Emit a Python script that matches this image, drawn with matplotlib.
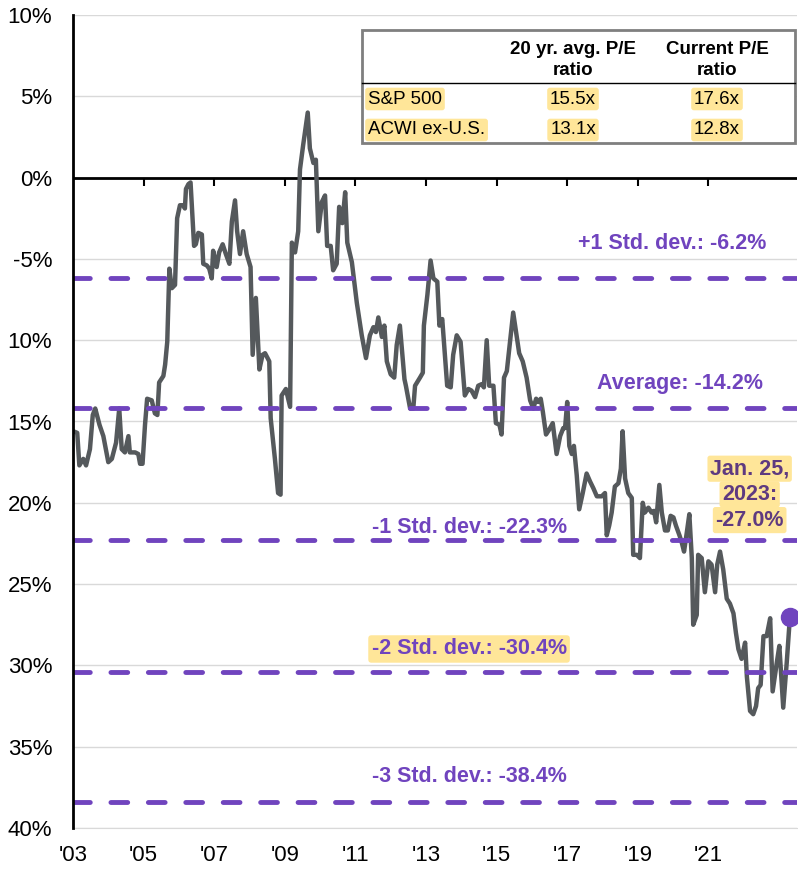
import numpy as np
import matplotlib.pyplot as plt
from matplotlib.patches import Rectangle
from matplotlib.lines import Line2D

plt.rcParams['font.family'] = ['Liberation Sans', 'DejaVu Sans']

# ACWI ex-U.S. P/E relative to S&P 500 (discount, %)
years = [2003.01, 2003.12, 2003.18, 2003.29, 2003.37, 2003.48, 2003.56, 2003.63, 2003.75, 2003.86,
         2004.00, 2004.10, 2004.22, 2004.31, 2004.38, 2004.47, 2004.57, 2004.61, 2004.76, 2004.85,
         2004.90, 2004.97, 2005.04, 2005.10, 2005.23, 2005.32, 2005.39, 2005.44, 2005.56, 2005.61,
         2005.67, 2005.73, 2005.80, 2005.89, 2005.95, 2006.03, 2006.12, 2006.17, 2006.20, 2006.27,
         2006.33, 2006.43, 2006.48, 2006.55, 2006.65, 2006.69, 2006.79, 2006.86, 2006.93, 2006.97,
         2007.07, 2007.14, 2007.24, 2007.33, 2007.43, 2007.50, 2007.59, 2007.65, 2007.73, 2007.82,
         2007.92, 2008.03, 2008.09, 2008.18, 2008.28, 2008.37, 2008.44, 2008.56, 2008.60, 2008.72,
         2008.81, 2008.88, 2008.91, 2009.03, 2009.15, 2009.20, 2009.29, 2009.38, 2009.43, 2009.52,
         2009.65, 2009.71, 2009.81, 2009.88, 2009.95, 2010.05, 2010.14, 2010.20, 2010.30, 2010.37,
         2010.47, 2010.54, 2010.63, 2010.71, 2010.77, 2010.90, 2011.04, 2011.18, 2011.30, 2011.41,
         2011.51, 2011.58, 2011.65, 2011.75, 2011.82, 2011.89, 2012.00, 2012.10, 2012.17, 2012.26,
         2012.39, 2012.43, 2012.55, 2012.64, 2012.69, 2012.83, 2012.91, 2012.94, 2013.04, 2013.13,
         2013.21, 2013.32, 2013.38, 2013.46, 2013.60, 2013.70, 2013.77, 2013.87, 2013.98, 2014.10,
         2014.20, 2014.29, 2014.39, 2014.48, 2014.58, 2014.64, 2014.72, 2014.79, 2014.91, 2014.98,
         2015.08, 2015.14, 2015.21, 2015.29, 2015.47, 2015.64, 2015.74, 2015.85, 2015.95, 2016.04,
         2016.12, 2016.18, 2016.25, 2016.31, 2016.40, 2016.49, 2016.59, 2016.70, 2016.80, 2016.89,
         2016.94, 2017.00, 2017.06, 2017.13, 2017.19, 2017.27, 2017.34, 2017.44, 2017.55, 2017.65,
         2017.74, 2017.84, 2017.98, 2018.07, 2018.12, 2018.19, 2018.26, 2018.35, 2018.45, 2018.52,
         2018.57, 2018.64, 2018.73, 2018.83, 2018.87, 2018.97, 2019.06, 2019.14, 2019.20, 2019.30,
         2019.39, 2019.46, 2019.52, 2019.61, 2019.68, 2019.77, 2019.85, 2019.93, 2020.01, 2020.08,
         2020.18, 2020.24, 2020.31, 2020.39, 2020.46, 2020.53, 2020.57, 2020.67, 2020.71, 2020.81,
         2020.90, 2021.00, 2021.09, 2021.19, 2021.25, 2021.33, 2021.42, 2021.52, 2021.61, 2021.71,
         2021.78, 2021.85, 2021.94, 2022.04, 2022.09, 2022.18, 2022.27, 2022.35, 2022.41, 2022.48,
         2022.56, 2022.65, 2022.75, 2022.82, 2022.94, 2023.01, 2023.12, 2023.22, 2023.31]

discount = [-15.6, -15.7, -17.7, -17.3, -17.7, -16.7, -14.6, -14.2, -15.2, -15.9,
            -17.5, -17.3, -16.3, -14.2, -16.7, -16.9, -15.9, -16.9, -16.9, -17.0,
            -17.6, -17.6, -15.2, -13.6, -13.7, -14.5, -14.6, -12.6, -12.2, -11.5,
            -10.1, -5.6, -6.8, -6.6, -2.5, -1.7, -1.7, -1.9, -0.7, -0.4,
            -0.3, -4.2, -4.1, -3.4, -3.5, -5.3, -5.4, -5.6, -6.2, -4.5,
            -5.5, -4.6, -4.1, -4.7, -5.3, -2.7, -1.4, -3.3, -4.7, -3.3,
            -4.7, -5.5, -10.9, -7.4, -11.8, -10.9, -10.8, -11.3, -14.8, -17.3,
            -19.4, -19.5, -13.4, -13.0, -14.1, -4.0, -4.6, -3.3, 0.5, 2.0,
            4.0, 1.8, 0.9, 1.1, -3.3, -1.5, -1.1, -4.2, -4.2, -5.7,
            -5.3, -1.8, -2.8, -0.9, -4.0, -5.2, -7.7, -9.7, -11.1, -9.7,
            -9.2, -9.5, -8.6, -9.8, -9.1, -11.3, -12.1, -12.3, -10.3, -9.1,
            -12.4, -12.8, -14.2, -14.2, -12.8, -12.3, -12.0, -9.1, -7.2, -5.1,
            -6.2, -6.4, -9.1, -8.7, -12.8, -12.9, -10.9, -9.7, -10.1, -13.4,
            -13.0, -13.1, -13.5, -12.8, -12.7, -12.9, -10.0, -12.8, -12.8, -15.1,
            -15.2, -15.8, -12.3, -11.9, -8.3, -10.8, -11.3, -12.3, -13.7, -14.2,
            -13.6, -13.8, -13.6, -14.4, -15.8, -15.5, -15.1, -17.0, -15.9, -15.4,
            -15.4, -13.8, -16.5, -17.0, -16.5, -18.3, -20.4, -19.4, -18.2, -18.7,
            -19.1, -19.6, -19.6, -19.4, -22.0, -21.4, -20.6, -19.0, -18.8, -17.9,
            -15.6, -18.5, -19.4, -19.7, -23.2, -23.2, -23.4, -20.0, -20.6, -20.3,
            -20.6, -20.5, -21.2, -18.9, -20.6, -21.7, -21.7, -20.8, -20.9, -21.4,
            -22.0, -22.4, -23.0, -21.8, -20.7, -23.4, -27.5, -26.9, -23.2, -23.4,
            -25.5, -23.6, -23.8, -25.5, -23.8, -23.0, -24.1, -25.9, -26.2, -26.8,
            -28.0, -29.0, -29.6, -28.6, -30.7, -32.8, -33.0, -32.5, -31.4, -31.2,
            -28.2, -28.2, -27.1, -31.6, -29.8, -28.8, -32.6, -29.8, -27.0]

# average and standard deviation bands
band_levels = [-6.2, -14.2, -22.3, -30.4, -38.4]
band_labels = ['+1 Std. dev.: -6.2%', 'Average: -14.2%', '-1 Std. dev.: -22.3%',
               '-2 Std. dev.: -30.4%', '-3 Std. dev.: -38.4%']
band_label_x = [2019.98, 2020.19, 2014.22, 2014.22, 2014.22]
band_label_dy = [25, 18, 9.5, 16.5, 18]        # points above the line
band_label_hl = [False, False, False, True, False]

ytick_vals = [-40, -35, -30, -25, -20, -15, -10, -5, 0, 5, 10]
ytick_labels = ['40%', '35%', '30%', '25%', '20%', '15%', '10%', '-5%', '0%', '5%', '10%']
xtick_years = [2003, 2005, 2007, 2009, 2011, 2013, 2015, 2017, 2019, 2021]
xtick_labels = ["'03", "'05", "'07", "'09", "'11", "'13", "'15", "'17", "'19", "'21"]

table_rows = ['S&P 500', 'ACWI ex-U.S.']
avg_pe = ['15.5x', '13.1x']
current_pe = ['17.6x', '12.8x']
last_label = ['Jan. 25,', '2023:', '-27.0%']

PURPLE = '#7044BE'
DARK_PURPLE = '#5E3A80'
GRAY = '#55595C'
HL = '#FFE699'

W, H = 798, 872
fig = plt.figure(figsize=(W / 100, H / 100), dpi=100)
ax = fig.add_axes([73 / W, 44 / H, 724 / W, 813 / H])

ax.set_xlim(2003, 2023.51)
ax.set_ylim(-40, 10)

ax.set_yticks(ytick_vals, ytick_labels)
ax.set_xticks(xtick_years, xtick_labels)
ax.tick_params(axis='y', length=0, pad=15, labelsize=16)
ax.tick_params(axis='x', length=0, pad=12, labelsize=16)
ax.grid(axis='y', color='#D9D9D9', lw=1, zorder=0)
ax.set_axisbelow(True)

for s in ['top', 'right']:
    ax.spines[s].set_visible(False)
ax.spines['bottom'].set_color('#D9D9D9')
ax.spines['left'].set_linewidth(2)
ax.spines['left'].set_zorder(5)

# zero line with small year ticks
ax.axhline(0, color='black', lw=2, zorder=2)
ax.plot(xtick_years, np.zeros(len(xtick_years)), ls='none', marker=3, ms=6,
        mew=1.5, color='black', zorder=2)

ax.plot(years, discount, color=GRAY, lw=3.2, zorder=3, solid_joinstyle='round')

for lvl in band_levels:
    ax.axhline(lvl, color=PURPLE, lw=3.5, ls=(0, (3.45, 4.25)),
               dash_capstyle='round', zorder=4)

for lab, lx, lvl, dy, hl in zip(band_labels, band_label_x, band_levels,
                                band_label_dy, band_label_hl):
    bbox = dict(boxstyle='round,pad=0.15', fc=HL, ec='none') if hl else None
    ax.annotate(lab, (lx, lvl), xytext=(0, dy), textcoords='offset points',
                ha='center', va='center', fontsize=15.5, fontweight='bold',
                color=PURPLE, bbox=bbox, zorder=6)

# latest point
ax.plot(years[-1], discount[-1], 'o', color=PURPLE, ms=13, zorder=7, clip_on=False)
for i, line in enumerate(last_label):
    ax.annotate(line, (years[-1], discount[-1]), xytext=(-29, 106.5 - 18.5 * i),
                textcoords='offset points', ha='center', va='center',
                fontsize=15.5, fontweight='bold', color=DARK_PURPLE,
                bbox=dict(boxstyle='round,pad=0.12', fc=HL, ec='none'), zorder=6)

# P/E table in the top right corner
tx0, tx1 = 362 / W, 795 / W
ty0, ty1 = 1 - 143 / H, 1 - 30 / H
fig.add_artist(Rectangle((tx0, ty0), tx1 - tx0, ty1 - ty0, transform=fig.transFigure,
                         fc='white', ec='#7F7F7F', lw=2, zorder=10))
sep_y = 1 - 83 / H
fig.add_artist(Line2D([tx0, tx1], [sep_y, sep_y], transform=fig.transFigure,
                      color='black', lw=1, zorder=11))
col1, col2 = 573 / W, 717 / W
head_y = 1 - 60 / H
fig.text(col1, head_y, '20 yr. avg. P/E\nratio', ha='center', va='center',
         fontsize=13.5, fontweight='bold', linespacing=1.3, zorder=12)
fig.text(col2, head_y, 'Current P/E\nratio', ha='center', va='center',
         fontsize=13.5, fontweight='bold', linespacing=1.3, zorder=12)
row_y = [1 - 99 / H, 1 - 130 / H]
for name, a, c, ry in zip(table_rows, avg_pe, current_pe, row_y):
    hb = dict(boxstyle='round,pad=0.15', fc=HL, ec='none')
    fig.text(368 / W, ry, name, ha='left', va='center', fontsize=13.5, bbox=hb, zorder=12)
    fig.text(col1, ry, a, ha='center', va='center', fontsize=13.5, bbox=hb, zorder=12)
    fig.text(col2, ry, c, ha='center', va='center', fontsize=13.5, bbox=hb, zorder=12)

fig.savefig('out.png', dpi=100)
